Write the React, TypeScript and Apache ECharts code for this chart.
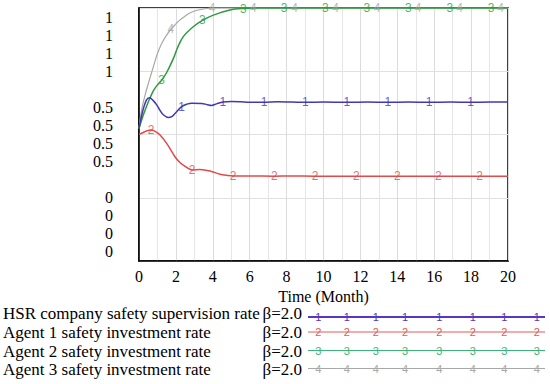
import React, { useEffect, useRef } from "react";
import * as echarts from "echarts";

// ---- data ----
const xTickMin = 0;
const xTickMax = 20;
const xTickStep = 2;

// y label texts, one per odd slot of the label axis (bottom to top)
const yLabelTexts = ["0", "0", "0", "0", "", "0.5", "0.5", "0.5", "0.5", "", "1", "1", "1", "1"];

const seriesNames = [
  "HSR company safety supervision rate",
  "Agent 1 safety investment rate",
  "Agent 2 safety investment rate",
  "Agent 3 safety investment rate",
];
const seriesTags = ["1", "2", "3", "4"];
const betaText = "β=2.0";

const hsrSupervision: [number, number][] = [
  [0, 0.524], [0.2, 0.592], [0.4, 0.636], [0.56, 0.645], [0.75, 0.636], [0.96, 0.617],
  [1.15, 0.594], [1.32, 0.578], [1.59, 0.567], [1.8, 0.572], [1.95, 0.583], [2.31, 0.61],
  [2.6, 0.62], [2.85, 0.624], [3.4, 0.623], [3.7, 0.618], [3.94, 0.615], [4.2, 0.621],
  [4.55, 0.628], [5, 0.63], [5.5, 0.629], [6, 0.627], [6.78, 0.627], [7.5, 0.629],
  [8.3, 0.628], [9.02, 0.627], [10, 0.628], [11.26, 0.627], [12.4, 0.628], [13.49, 0.627],
  [14.6, 0.628], [15.73, 0.627], [16.9, 0.628], [17.97, 0.627], [19, 0.628], [20, 0.628],
];
const agent1Investment: [number, number][] = [
  [0, 0.501], [0.2, 0.507], [0.4, 0.514], [0.65, 0.518], [0.85, 0.513], [1.14, 0.498],
  [1.5, 0.465], [1.95, 0.412], [2.2, 0.39], [2.4, 0.379], [2.88, 0.36], [3.3, 0.362],
  [3.85, 0.356], [4.39, 0.343], [4.8, 0.338], [5.1, 0.336], [6, 0.336], [7.33, 0.335],
  [8.2, 0.336], [9.55, 0.335], [11.78, 0.335], [14, 0.335], [16.23, 0.335], [18.46, 0.335],
  [20, 0.335],
];
const agent2Investment: [number, number][] = [
  [0, 0.524], [0.2, 0.57], [0.4, 0.61], [0.6, 0.645], [0.8, 0.675], [1.0, 0.696],
  [1.23, 0.715], [1.5, 0.745], [1.86, 0.8], [2.1, 0.845], [2.4, 0.887], [2.94, 0.926],
  [3.44, 0.951], [4.03, 0.972], [4.93, 0.992], [5.65, 0.998], [6.5, 1], [7.87, 1],
  [10.1, 1], [12.35, 1], [14.6, 1], [16.85, 1], [19.08, 1], [20, 1],
];
const agent3Investment: [number, number][] = [
  [0, 0.524], [0.15, 0.6], [0.33, 0.656], [0.5, 0.7], [0.78, 0.768], [1.0, 0.82],
  [1.23, 0.86], [1.5, 0.893], [1.73, 0.916], [2.0, 0.937], [2.22, 0.953], [2.5, 0.968],
  [2.76, 0.98], [3.1, 0.99], [3.49, 0.996], [3.96, 1], [6.2, 1], [8.44, 1], [10.66, 1],
  [12.9, 1], [15.13, 1], [17.37, 1], [19.6, 1], [20, 1],
];

// times at which the series number is printed on the curve
const hsrMarkers = [2.31, 4.55, 6.78, 9.02, 11.26, 13.49, 15.73, 17.97];
const agent1Markers = [0.65, 2.88, 5.1, 7.33, 9.55, 11.78, 14, 16.23, 18.46];
const agent2Markers = [1.23, 3.44, 5.65, 7.87, 10.1, 12.35, 14.6, 16.85, 19.08];
const agent3Markers = [1.73, 3.96, 6.2, 8.44, 10.66, 12.9, 15.13, 17.37, 19.6];

// ---- styles / layout ----
const colors = ["#4338b0", "#e04a4a", "#2e9a3e", "#a8a8a8"];
const legendColors = ["#5636c4", "#e35a5a", "#3db37a", "#a8a8a8"];
const legendWidths = [2, 1, 1, 1];
const legendRowsY = [313, 332, 351, 369.5];
const legendLineY = [317, 332, 350.5, 368.5];
const legendMarkX = [318.3, 346.7, 375.7, 405, 439.3, 472.7, 504.3, 536.7];
const serifName = "Liberation Serif";
const sansName = "Liberation Sans";

export default function App() {
  const ref = useRef<HTMLDivElement>(null);

  useEffect(() => {
    if (!ref.current) return;
    const chart = echarts.init(ref.current, undefined, { renderer: "svg" });

    const all = [hsrSupervision, agent1Investment, agent2Investment, agent3Investment];
    const marks = [hsrMarkers, agent1Markers, agent2Markers, agent3Markers];

    const lineSeries: any[] = [];
    const markSeries: any[] = [];
    // draw order: 4, 3, 1, 2
    [3, 2, 0, 1].forEach((i) => {
      lineSeries.push({
        type: "line",
        name: seriesNames[i],
        data: all[i],
        smooth: 0.35,
        showSymbol: false,
        clip: false,
        lineStyle: { color: colors[i], width: i === 3 ? 1.2 : 1.5 },
        itemStyle: { color: colors[i] },
        z: 3,
      });
      markSeries.push({
        type: "scatter",
        data: marks[i].map((t) => all[i].find((p) => p[0] === t)),
        symbol: "circle",
        symbolSize: 1,
        clip: false,
        itemStyle: { color: colors[i] },
        label: {
          show: true,
          position: "inside",
          formatter: seriesTags[i],
          color: colors[i],
          fontSize: 12,
          fontFamily: sansName,
        },
        z: 4,
      });
    });

    const graphics: any[] = [];
    seriesNames.forEach((name, i) => {
      graphics.push({
        type: "text",
        style: {
          text: name,
          x: 3,
          y: legendRowsY[i],
          font: `17px "${serifName}"`,
          fill: "#000",
          textVerticalAlign: "middle",
        },
      });
      graphics.push({
        type: "text",
        style: {
          text: betaText,
          x: 302,
          y: legendRowsY[i],
          font: `17px "${serifName}"`,
          fill: "#000",
          textAlign: "right",
          textVerticalAlign: "middle",
        },
      });
      graphics.push({
        type: "line",
        shape: { x1: 308, y1: legendLineY[i], x2: 545, y2: legendLineY[i] },
        style: { stroke: legendColors[i], lineWidth: legendWidths[i] },
      });
      legendMarkX.forEach((x) => {
        graphics.push({
          type: "text",
          style: {
            text: seriesTags[i],
            x,
            y: legendLineY[i],
            font: `11px "${sansName}"`,
            fill: legendColors[i],
            textAlign: "center",
            textVerticalAlign: "middle",
          },
        });
      });
    });

    chart.setOption({
      animation: false,
      grid: {
        left: 139,
        top: 8,
        right: 42,
        bottom: 123,
        show: true,
        borderColor: "#000",
        borderWidth: 1.5,
        backgroundColor: "transparent",
      },
      xAxis: {
        type: "value",
        min: xTickMin,
        max: xTickMax,
        interval: xTickStep,
        name: "Time (Month)",
        nameLocation: "middle",
        nameGap: 23,
        nameTextStyle: { fontFamily: serifName, fontSize: 16, color: "#000" },
        axisLine: { show: true, lineStyle: { color: "#000", width: 1.5 } },
        axisTick: { show: false },
        axisLabel: { fontFamily: serifName, fontSize: 16, color: "#000", margin: 7 },
        splitLine: { show: true, lineStyle: { color: "#dcdcdc", width: 1 } },
        minorTick: { show: false, splitNumber: 2 },
        minorSplitLine: { show: true, lineStyle: { color: "#e6e6e6", width: 1 } },
      },
      yAxis: [
        {
          type: "value",
          min: 0,
          max: 1,
          interval: 0.25,
          axisLine: { show: true, lineStyle: { color: "#000", width: 1.5 } },
          axisTick: { show: false },
          axisLabel: { show: false },
          splitLine: { show: true, lineStyle: { color: "#e0e0e0", width: 1 } },
        },
        {
          type: "value",
          min: 0,
          max: 28,
          interval: 1,
          position: "left",
          axisLine: { show: false },
          axisTick: { show: false },
          splitLine: { show: false },
          axisLabel: {
            fontFamily: serifName,
            fontSize: 16,
            color: "#000",
            margin: 26,
            formatter: (v: number) => {
              const n = Math.round(v);
              if (n % 2 === 0) return "";
              return yLabelTexts[(n - 1) / 2] ?? "";
            },
          },
        },
      ],
      series: [...lineSeries, ...markSeries],
      graphic: graphics,
    });

    return () => chart.dispose();
  }, []);

  return (
    <div
      ref={ref}
      style={{ position: "fixed", left: 0, top: 0, width: 550, height: 384, background: "#fff" }}
    />
  );
}
